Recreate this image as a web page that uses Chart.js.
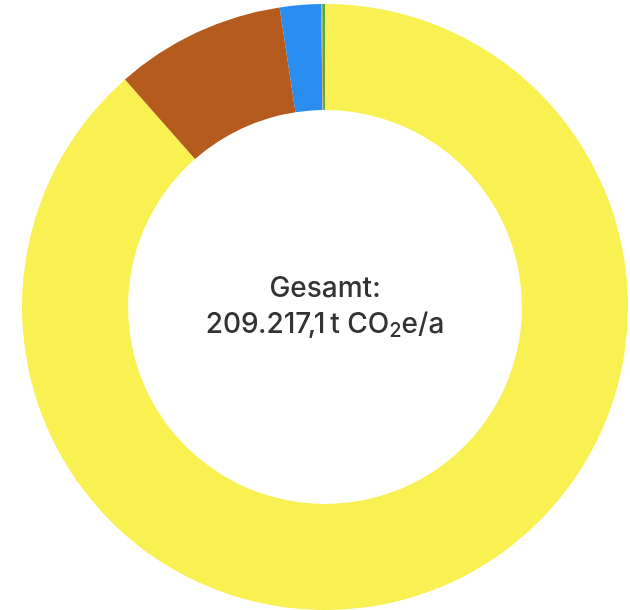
<!DOCTYPE html>
<html lang="de">
<head>
<meta charset="utf-8">
<title>Emissionen</title>
<script src="https://cdn.jsdelivr.net/npm/chart.js@4"></script>
<style>
  html, body { margin: 0; padding: 0; background: #fff; }
  canvas { display: block; }
</style>
</head>
<body>
<canvas id="myChart" width="630" height="610"></canvas>
<script>
// Emissionen je Quelle in t CO2e/a
const labels = ["Quelle A", "Quelle B", "Quelle C", "Quelle D", "Quelle E"];
const values = [185207.1, 19000, 4590, 120, 300];
const colors = ["#f9f052", "#b45b1d", "#2a8df0", "#d2a15c", "#5aa83c"];

const total = values.reduce((a, b) => a + b, 0);
const totalText = total.toLocaleString("de-DE", { minimumFractionDigits: 1, maximumFractionDigits: 1 });

// Summe in der Mitte des Rings
const centerText = {
  id: "centerText",
  afterDraw(chart) {
    const meta = chart.getDatasetMeta(0).data[0];
    const cx = meta.x, cy = meta.y;
    const c = chart.ctx;
    const big = "500 28px Inter";
    const small = "500 20px Inter";
    c.save();
    c.fillStyle = "#333";
    c.textBaseline = "alphabetic";
    c.font = big;
    c.textAlign = "center";
    c.fillText("Gesamt:", cx, cy - 10);

    // zweite Zeile mit tiefgestellter 2
    const p1 = totalText + "\u2009t CO";
    const p2 = "2";
    const p3 = "e/a";
    const w1 = c.measureText(p1).width;
    const w3 = c.measureText(p3).width;
    c.font = small;
    const w2 = c.measureText(p2).width;
    let x = cx - (w1 + w2 + w3) / 2;
    const y = cy + 26;
    c.textAlign = "left";
    c.font = big;
    c.fillText(p1, x, y);
    x += w1;
    c.font = small;
    c.fillText(p2, x, y + 4);
    x += w2;
    c.font = big;
    c.fillText(p3, x, y);
    c.restore();
  }
};

const ctx = document.getElementById("myChart").getContext("2d");
const chart = new Chart(ctx, {
  type: "doughnut",
  data: {
    labels: labels,
    datasets: [{
      data: values,
      backgroundColor: colors,
      borderWidth: 0
    }]
  },
  options: {
    responsive: false,
    animation: false,
    cutout: "65%",
    layout: { padding: { left: 22, top: 4, right: 2, bottom: 0 } },
    plugins: {
      legend: { display: false },
      tooltip: { enabled: false }
    }
  },
  plugins: [centerText]
});
</script>
</body>
</html>
